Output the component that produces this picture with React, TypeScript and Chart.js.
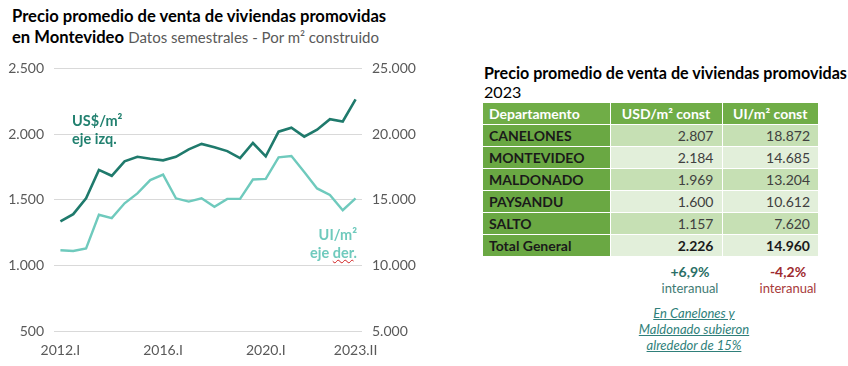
import React, { useEffect, useRef } from "react";
import { Chart, registerables } from "chart.js";

Chart.register(...registerables);

const periods = [
  "2012.I", "2012.II", "2013.I", "2013.II", "2014.I", "2014.II", "2015.I", "2015.II",
  "2016.I", "2016.II", "2017.I", "2017.II", "2018.I", "2018.II", "2019.I", "2019.II",
  "2020.I", "2020.II", "2021.I", "2021.II", "2022.I", "2022.II", "2023.I", "2023.II",
];
const shownLabels = ["2012.I", "2016.I", "2020.I", "2023.II"];
const usdPerM2 = [
  1335, 1390, 1510, 1727, 1682, 1792, 1827, 1812, 1800, 1827, 1883, 1925,
  1900, 1870, 1817, 1932, 1830, 2018, 2048, 1980, 2033, 2113, 2096, 2264,
];
const uiPerM2 = [
  11145, 11090, 11295, 13855, 13600, 14729, 15482, 16491, 16913, 15105, 14857, 15105,
  14458, 15060, 15060, 16536, 16580, 18223, 18320, 17116, 15858, 15361, 14203, 15105,
];

const departamentos = ["CANELONES", "MONTEVIDEO", "MALDONADO", "PAYSANDU", "SALTO"];
const usdDept = ["2.807", "2.184", "1.969", "1.600", "1.157"];
const uiDept = ["18.872", "14.685", "13.204", "10.612", "7.620"];
const totalLabel = "Total General";
const totalUsd = "2.226";
const totalUi = "14.960";
const varUsd = "+6,9%";
const varUi = "-4,2%";

const FONT = "Lato, 'Open Sans', sans-serif";

function LineChart() {
  const ref = useRef<HTMLCanvasElement>(null);
  useEffect(() => {
    if (!ref.current) return;
    const chart = new Chart(ref.current, {
      type: "line",
      data: {
        labels: periods,
        datasets: [
          {
            label: "US$/m²",
            data: usdPerM2,
            borderColor: "#1f7a6c",
            backgroundColor: "#1f7a6c",
            borderWidth: 2.6,
            pointRadius: 0,
            tension: 0,
            yAxisID: "y",
          },
          {
            label: "UI/m²",
            data: uiPerM2,
            borderColor: "#6fcabd",
            backgroundColor: "#6fcabd",
            borderWidth: 2.4,
            pointRadius: 0,
            tension: 0,
            yAxisID: "y1",
          },
        ],
      },
      options: {
        animation: false,
        responsive: false,
        maintainAspectRatio: false,
        layout: { padding: { top: 15, left: 0, right: 0, bottom: 0 } },
        plugins: { legend: { display: false }, tooltip: { enabled: false } },
        scales: {
          x: {
            offset: true,
            grid: { display: false, drawTicks: false },
            border: { display: false },
            ticks: {
              autoSkip: false,
              maxRotation: 0,
              color: "#595959",
              font: { family: FONT, size: 14 },
              padding: 11,
              callback: (_v: any, i: number) => (shownLabels.includes(periods[i]) ? periods[i] : ""),
            },
            afterFit: (s: any) => {
              s.height = 35;
            },
          },
          y: {
            position: "left",
            min: 500,
            max: 2500,
            ticks: {
              stepSize: 500,
              color: "#595959",
              font: { family: FONT, size: 14 },
              padding: 10,
              callback: (v: any) => Number(v).toLocaleString("de-DE"),
            },
            grid: { color: "#d9d9d9", lineWidth: 1, drawTicks: false },
            border: { display: false },
            afterFit: (s: any) => {
              s.width = 54;
            },
          },
          y1: {
            position: "right",
            min: 5000,
            max: 25000,
            ticks: {
              stepSize: 5000,
              color: "#595959",
              font: { family: FONT, size: 14 },
              padding: 10,
              callback: (v: any) => Number(v).toLocaleString("de-DE"),
            },
            grid: { display: false, drawTicks: false },
            border: { display: false },
            afterFit: (s: any) => {
              s.width = 68;
            },
          },
        },
      },
    });
    return () => chart.destroy();
  }, []);
  return <canvas ref={ref} width={430} height={316} style={{ position: "absolute", left: 0, top: 50 }} />;
}

const cellBase: React.CSSProperties = {
  height: 21,
  padding: "0 8px",
  borderBottom: "1px solid #ffffff",
  borderRight: "1px solid #ffffff",
  whiteSpace: "nowrap",
};

export default function App() {
  return (
    <div
      style={{
        position: "absolute",
        left: 0,
        top: 0,
        width: 848,
        height: 366,
        background: "#ffffff",
        fontFamily: FONT,
        overflow: "hidden",
      }}
    >
      <div style={{ position: "absolute", left: 12, top: 6, fontSize: 16.6, lineHeight: "21px", color: "#000" }}>
        <div style={{ fontWeight: 700 }}>Precio promedio de venta de viviendas promovidas</div>
        <div>
          <span style={{ fontWeight: 700 }}>en Montevideo</span>{" "}
          <span style={{ color: "#595959", fontSize: 15 }}>Datos semestrales - Por m² construido</span>
        </div>
      </div>

      <LineChart />

      <div
        style={{
          position: "absolute",
          left: 72,
          top: 112,
          color: "#21806f",
          fontWeight: 700,
          fontSize: 14.5,
          lineHeight: "18px",
        }}
      >
        <div>US$/m²</div>
        <div>eje izq.</div>
      </div>
      <div
        style={{
          position: "absolute",
          right: 848 - 357,
          top: 226,
          color: "#6fcabd",
          fontWeight: 700,
          fontSize: 14.5,
          lineHeight: "18px",
          textAlign: "right",
        }}
      >
        <div>UI/m²</div>
        <div>
          eje{" "}
          <span style={{ textDecoration: "underline wavy #d02020", textDecorationThickness: 1 }}>der</span>.
        </div>
      </div>

      <div style={{ position: "absolute", left: 484, top: 63, fontSize: 16.1, lineHeight: "19px", color: "#000" }}>
        <div style={{ fontWeight: 700 }}>Precio promedio de venta de viviendas promovidas</div>
        <div>2023</div>
      </div>

      <table
        style={{
          position: "absolute",
          left: 483,
          top: 103,
          width: 335,
          borderCollapse: "collapse",
          fontSize: 14,
          lineHeight: "21px",
        }}
      >
        <colgroup>
          <col style={{ width: 127 }} />
          <col style={{ width: 112 }} />
          <col style={{ width: 96 }} />
        </colgroup>
        <thead>
          <tr style={{ background: "#70ad47", color: "#ffffff", fontWeight: 700 }}>
            <td style={{ ...cellBase, textAlign: "left", paddingLeft: 6 }}>Departamento</td>
            <td style={{ ...cellBase, textAlign: "center" }}>USD/m² const</td>
            <td style={{ ...cellBase, textAlign: "center", borderRight: "none" }}>UI/m² const</td>
          </tr>
        </thead>
        <tbody>
          {departamentos.map((d, i) => {
            const bg = i % 2 === 0 ? "#c6e0b4" : "#e2efda";
            return (
              <tr key={d}>
                <td style={{ ...cellBase, background: "#6aa843", color: "#1a1a1a", fontWeight: 700, paddingLeft: 6 }}>
                  {d}
                </td>
                <td style={{ ...cellBase, background: bg, color: "#404040", textAlign: "right" }}>{usdDept[i]}</td>
                <td style={{ ...cellBase, background: bg, color: "#404040", textAlign: "right", borderRight: "none" }}>
                  {uiDept[i]}
                </td>
              </tr>
            );
          })}
          <tr>
            <td
              style={{ ...cellBase, background: "#6aa843", color: "#1a1a1a", fontWeight: 700, paddingLeft: 6, borderBottom: "none" }}
            >
              {totalLabel}
            </td>
            <td
              style={{ ...cellBase, background: "#e2efda", color: "#1a1a1a", fontWeight: 700, textAlign: "right", borderBottom: "none" }}
            >
              {totalUsd}
            </td>
            <td
              style={{
                ...cellBase,
                background: "#e2efda",
                color: "#1a1a1a",
                fontWeight: 700,
                textAlign: "right",
                borderRight: "none",
                borderBottom: "none",
              }}
            >
              {totalUi}
            </td>
          </tr>
        </tbody>
      </table>

      <div style={{ position: "absolute", left: 630, top: 264, width: 120, textAlign: "center", lineHeight: "16px" }}>
        <div style={{ color: "#2a6f66", fontWeight: 700, fontSize: 14 }}>{varUsd}</div>
        <div style={{ color: "#3f7b74", fontSize: 13 }}>interanual</div>
      </div>
      <div style={{ position: "absolute", left: 728, top: 264, width: 120, textAlign: "center", lineHeight: "16px" }}>
        <div style={{ color: "#9e2a2f", fontWeight: 700, fontSize: 14 }}>{varUi}</div>
        <div style={{ color: "#a83a3a", fontSize: 13 }}>interanual</div>
      </div>

      <div
        style={{
          position: "absolute",
          left: 614,
          top: 305,
          width: 160,
          textAlign: "center",
          color: "#2f7f7a",
          fontStyle: "italic",
          textDecoration: "underline",
          fontSize: 13,
          lineHeight: "16px",
        }}
      >
        <div>En Canelones y</div>
        <div>Maldonado subieron</div>
        <div>alrededor de 15%</div>
      </div>
    </div>
  );
}
